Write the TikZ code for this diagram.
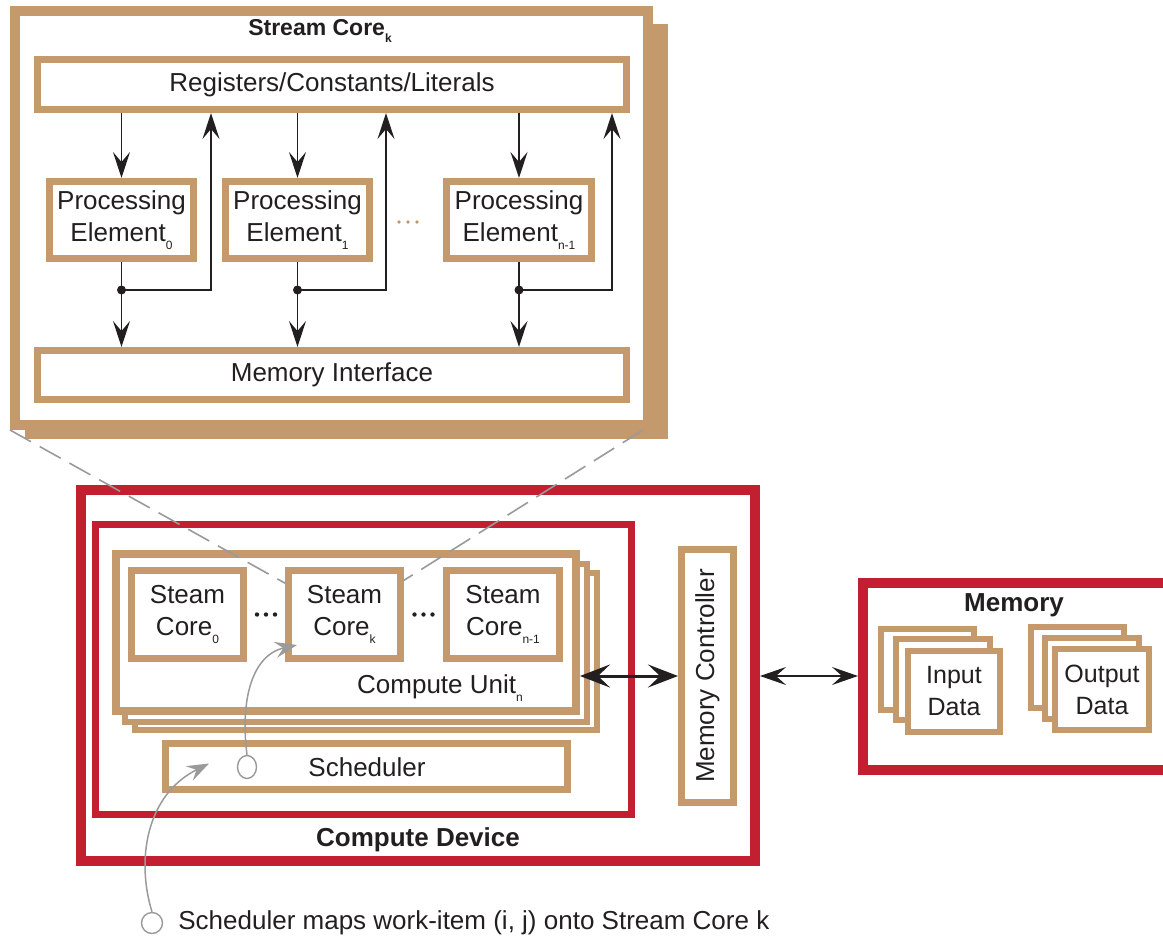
\documentclass[tikz,border=0pt]{standalone}
\usepackage{fontspec}
\setmainfont{Liberation Sans}
\usetikzlibrary{arrows.meta,calc,fit,shapes.geometric}

\definecolor{boxtan}{HTML}{C4996B}
\definecolor{devred}{HTML}{C21F30}
\definecolor{ink}{HTML}{231F20}
\definecolor{guide}{HTML}{9A9A9A}

% small lowered index used in the labels
\newcommand\sbs[1]{\raisebox{-0.6ex}{\fontsize{12}{12}\selectfont #1}}

\begin{document}
\begin{tikzpicture}[x=1pt,y=-1pt,
  font=\fontsize{26}{32}\selectfont, text=ink,
  tanbox/.style={draw=boxtan, line width=7pt, fill=white, inner sep=0pt},
  layer/.style={draw=boxtan, line width=6pt, fill=white, inner sep=0pt},
  txt/.style={align=center, inner sep=0pt},
  redframe/.style={draw=devred, line width=#1, inner sep=0pt},
  title/.style={font=\bfseries\fontsize{26}{28}\selectfont},
  flow/.style={draw=ink, line width=1.6pt, -{Stealth[length=26pt,width=17pt,inset=10pt]}},
  bigflow/.style={draw=ink, line width=3pt, {Stealth[length=30pt,width=23pt,inset=12pt]}-{Stealth[length=30pt,width=23pt,inset=12pt]}},
  thinflow/.style={draw=ink, line width=1.6pt, {Stealth[length=26pt,width=18pt,inset=10pt]}-{Stealth[length=26pt,width=18pt,inset=10pt]}},
  zoomline/.style={draw=guide, line width=1.6pt, dash pattern=on 24pt off 10pt},
  pointer/.style={draw=guide, line width=1.5pt, -{Stealth[length=22pt,width=16pt,inset=8pt]}},
  ring/.style={draw=guide, line width=1.4pt, fill=white, inner sep=0pt},
]
\useasboundingbox (0,0) rectangle (1163,940);

% ---------- enlarged stream core ----------
\node[fill=boxtan, inner sep=0pt, outer sep=0pt, fit={(25,24)(668,439)}] (scshadow) {};
\node[tanbox, line width=10pt, fit={(15,11)(648,425)}] (scfront) {};
\node[txt, font=\bfseries\fontsize{23}{26}\selectfont] (sctitle) at (320,31) {Stream Core\sbs{k}};

\node[tanbox, fit={(37.5,59.5)(626.5,109.5)}] (reg) {};
\node[txt] (reglabel) at (reg.center) {Registers/Constants/Literals};
\node[tanbox, fit={(37.5,350.5)(626.5,399.5)}] (mi) {};
\node[txt] (milabel) at (mi.center) {Memory Interface};

\node[tanbox, fit={(49.5,181.5)(193.5,258.5)}] (pe0) {};
\node[tanbox, fit={(225.5,181.5)(369.5,258.5)}] (pe1) {};
\node[tanbox, fit={(446.5,181.5)(591.5,258.5)}] (pen) {};
\node[txt] (pe0label) at (pe0.center) {Processing\\Element\sbs{0}};
\node[txt] (pe1label) at (pe1.center) {Processing\\Element\sbs{1}};
\node[txt] (penlabel) at (pen.center) {Processing\\Element\sbs{n-1}};

\coordinate (pdots) at ($(pe1.east)!0.5!(pen.west)+(0,2)$);
\foreach \d in {-9,0,9} \fill[boxtan] ($(pdots)+(\d,0)$) circle (1.9);

\coordinate (u0) at (211,290);
\coordinate (u1) at (386,290);
\coordinate (un) at (612,290);
\foreach \p/\u in {pe0/u0, pe1/u1, pen/un} {
  \draw[flow] (\p.north |- reg.south) -- (\p.north);
  \draw[flow] (\p.south) -- (\p.south |- mi.north);
  \draw[flow] (\p.south |- \u) -- (\u) -- (\u |- reg.south);
  \fill[ink] (\p.south |- \u) circle (4.5);
}

% ---------- compute device ----------
\node[redframe=10pt, fit={(81,490)(755,861)}] (cd) {};
\node[redframe=7pt, fit={(95.5,524.5)(631.5,814.5)}] (cuwrap) {};

\node[layer, fit={(135,573)(597,730)}] (cu3) {};
\node[layer, fit={(125,564)(587,722)}] (cu2) {};
\node[tanbox, line width=8pt, fit={(116,554)(576,711)}] (cu1) {};

\node[tanbox, fit={(131.5,570.5)(243.5,658.5)}] (c0) {};
\node[tanbox, fit={(288.5,570.5)(400.5,658.5)}] (ck) {};
\node[tanbox, fit={(446.5,570.5)(559.5,658.5)}] (cn) {};
\node[txt] (c0label) at (c0.center) {Steam\\Core\sbs{0}};
\node[txt] (cklabel) at (ck.center) {Steam\\Core\sbs{k}};
\node[txt] (cnlabel) at (cn.center) {Steam\\Core\sbs{n-1}};

\coordinate (cdots1) at ($(c0.east)!0.5!(ck.west)$);
\coordinate (cdots2) at ($(ck.east)!0.5!(cn.west)$);
\foreach \d in {-9,0,9} {
  \fill[ink] ($(cdots1)+(\d,0)$) circle (2.2);
  \fill[ink] ($(cdots2)+(\d,0)$) circle (2.2);
}

\node[txt] (culabel) at (440,688) {Compute Unit\sbs{n}};

\node[tanbox, fit={(165.5,743.5)(567.5,789.5)}] (sched) {};
\node[txt] (schedlabel) at (367,767) {Scheduler};
\node[ring, ellipse, minimum width=19pt, minimum height=23pt] (slot) at (247,767) {};

\node[tanbox, fit={(681.5,549.5)(733.5,802.5)}] (mc) {};
\node[txt, rotate=90] (mclabel) at (mc.center) {Memory Controller};

\node[txt, title] (cdlabel) at (418,840) {Compute Device};

% ---------- memory ----------
\node[inner sep=0pt, outer sep=5pt, fit={(863,583)(1175,770)}] (mem) {};
\draw[devred, line width=10pt] (1175,583) -- (863,583) -- (863,770) -- (1175,770);
\node[txt, title] (memlabel) at (1014,605) {Memory};

\node[layer, fit={(881,629)(974,710)}] (in3) {};
\node[layer, fit={(896,639)(990,720)}] (in2) {};
\node[layer, fit={(908,651)(1000,732)}] (in1) {};
\node[txt, font=\fontsize{25}{32}\selectfont] (inlabel) at (in1.center) {Input\\Data};

\node[layer, fit={(1031,627)(1124,708)}] (out3) {};
\node[layer, fit={(1045,638)(1139,719)}] (out2) {};
\node[layer, fit={(1055,649)(1149,730)}] (out1) {};
\node[txt, font=\fontsize{25}{32}\selectfont] (outlabel) at (out1.center) {Output\\Data};

% ---------- data paths ----------
\draw[bigflow] (cu1.east |- mc.center) -- (mc.west);
\draw[thinflow] (cd.east |- mc.center) -- (mem.west |- mc.center);

% ---------- zoom guides ----------
\draw[zoomline] (scfront.south west) -- ($(ck.north west)!0.17!(ck.south west)$);
\draw[zoomline] ($(scfront.south east)+(-10,0)$) -- ($(ck.north east)!0.14!(ck.south east)$);

% ---------- work-item mapping ----------
\node[ring, circle, minimum size=21pt] (origin) at (152,923) {};
\node[anchor=west, inner sep=0pt] (caption) at ($(origin.east)+(15,0)$) {Scheduler maps work-item (i, j) onto Stream Core k};

\draw[pointer] (slot.north) .. controls (240,700) and (252,655) .. ($(ck.south west)+(12,-17)$);
\draw[pointer] (origin.north) .. controls (136,860) and (146,795) .. ($(sched.west)+(47,-3)$);
\end{tikzpicture}
\end{document}
